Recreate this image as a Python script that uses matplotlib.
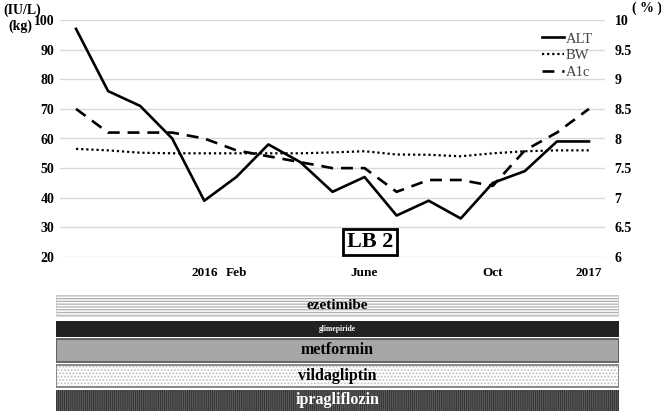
import numpy as np
import matplotlib
matplotlib.use('Agg')
from matplotlib import pyplot as plt

plt.rcParams['font.family'] = ['Liberation Serif', 'DejaVu Serif']
plt.rcParams['hatch.linewidth'] = 0.9

# 数据：17个随访点
alt = [97, 76, 71, 60, 39, 47, 58, 52, 42, 47, 34, 39, 33, 45, 49, 59, 59]
bw = [56.5, 56, 55.2, 55, 55, 55, 55, 55, 55.3, 55.7, 54.6, 54.5, 54, 55, 55.7, 56, 56]
a1c = [8.5, 8.1, 8.1, 8.1, 8.0, 7.8, 7.7, 7.6, 7.5, 7.5, 7.1, 7.3, 7.3, 7.2, 7.8, 8.1, 8.5]
tick_pos = [4, 5, 9, 13, 16]
tick_labels = ['2016', 'Feb', 'June', 'Oct', '2017']

drugs = ['ezetimibe', 'glimepiride', 'metformin', 'vildagliptin', 'ipragliflozin']
drug_start = [0, 0, 0, 0, 0]
drug_end = [1, 1, 1, 1, 1]

W, H = 661, 413
fig = plt.figure(figsize=(W / 100, H / 100), dpi=100)

ax = fig.add_axes([60 / W, 1 - 257 / H, 545 / W, 237 / H])
ax2 = ax.twinx()
x = np.arange(len(alt))

l1, = ax.plot(x, alt, color='black', lw=1.9, label='ALT')
l2, = ax.plot(x, bw, color='black', lw=1.6, ls=(0, (1, 1.3)), label='BW')
l3, = ax2.plot(x, a1c, color='black', lw=1.9, ls=(0, (4.5, 3)), label='A1c')

ax.set_xlim(-0.5, 16.5)
ax.set_ylim(20, 100)
ax.set_yticks(np.arange(20, 101, 10))
ax2.set_ylim(6, 10)
ax2.set_yticks(np.arange(6, 10.01, 0.5))
ax2.set_yticklabels(['6', '6.5', '7', '7.5', '8', '8.5', '9', '9.5', '10'])
ax.yaxis.grid(True, color='#d9d9d9', lw=1)
ax.set_axisbelow(True)
ax.set_xticks(tick_pos)
ax.set_xticklabels(tick_labels)

for a in (ax, ax2):
    for s in a.spines.values():
        s.set_visible(False)
    a.tick_params(length=0, labelsize=10)
    for t in a.get_yticklabels() + a.get_xticklabels():
        t.set_fontweight('bold')
ax.tick_params(axis='y', pad=4)
ax.tick_params(axis='x', pad=7, labelsize=9.5)
ax2.tick_params(axis='y', pad=7)

fig.text(3 / W, 1 - 10 / H, '(IU/L)', fontsize=10, fontweight='bold', va='center')
fig.text(8 / W, 1 - 26 / H, '(kg)', fontsize=10, fontweight='bold', va='center')
fig.text(632 / W, 1 - 8 / H, '( % )', fontsize=10, fontweight='bold', va='center')

fig.legend(handles=[l1, l2, l3], loc='upper left', bbox_to_anchor=(535 / W, 1 - 25 / H),
           frameon=False, fontsize=10.5, handlelength=1.5, handletextpad=0.1,
           labelspacing=0.25, borderpad=0, labelcolor='#444444')

fig.text(370 / W, 1 - 242 / H, 'LB 2', fontsize=16, fontweight='bold', ha='center', va='center',
         bbox=dict(boxstyle='square,pad=0.15', fc='white', ec='black', lw=2))

# 下方用药条
bx = fig.add_axes([56 / W, 1 - 411 / H, 563 / W, 116 / H])
bx.set_xlim(0, 1)
bx.set_ylim(116, 0)
bx.axis('off')
ypos = [10.5, 34, 55.5, 81, 105.5]
hts = [21, 16, 23, 22, 21]
faces = ['white', '#222222', '#a6a6a6', 'white', '#2e2e2e']
hatch_col = ['#b0b0b0', '#222222', '#a6a6a6', '#c0c0c0', '#5a5a5a']
hatches = ['------', None, None, '.....', '||||||||']
borders = ['#cccccc', 'none', '#555555', '#777777', 'none']
txt_col = ['black', 'white', 'black', 'black', 'white']
txt_size = [11, 5.5, 11.5, 11.5, 11.5]
widths = [e - s for s, e in zip(drug_start, drug_end)]
for i, d in enumerate(drugs):
    bx.barh(ypos[i], widths[i], left=drug_start[i], height=hts[i], color=faces[i],
            edgecolor=hatch_col[i], hatch=hatches[i], lw=0)
    bx.barh(ypos[i], widths[i], left=drug_start[i], height=hts[i], fill=False,
            edgecolor=borders[i], lw=1.2)
    bx.text((drug_start[i] + drug_end[i]) / 2, ypos[i], d, ha='center', va='center',
            fontsize=txt_size[i], fontweight='bold', color=txt_col[i])

fig.savefig('out.png', dpi=100)
